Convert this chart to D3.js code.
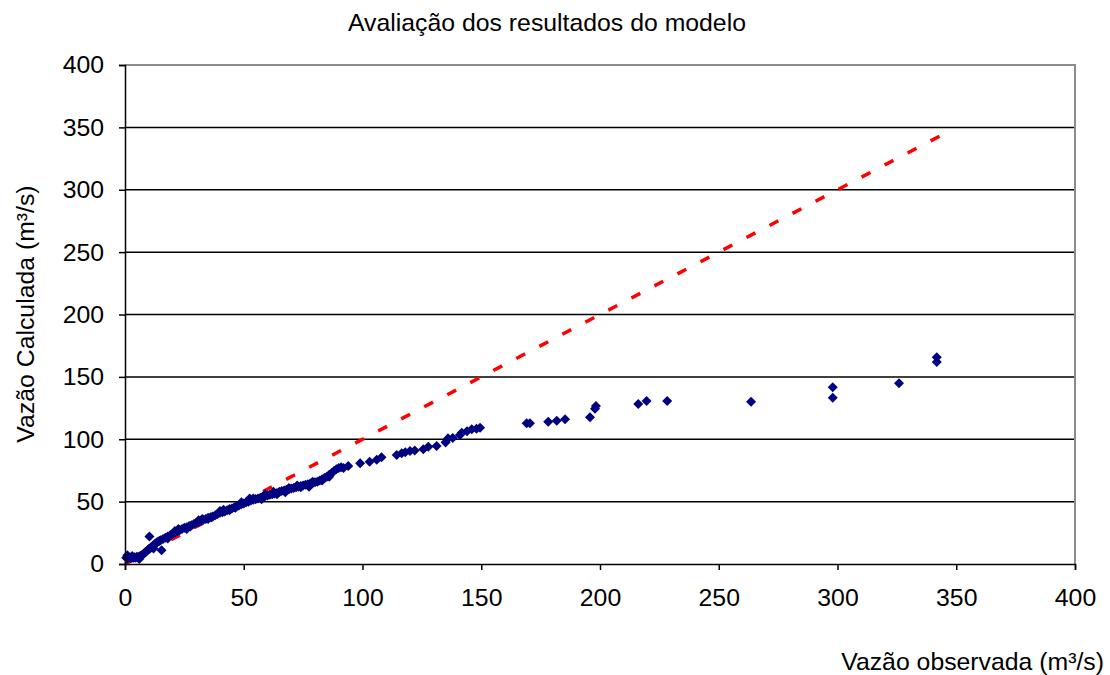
<!DOCTYPE html>
<html>
<head>
<meta charset="utf-8">
<script src="https://cdn.jsdelivr.net/npm/d3@7"></script>
<style>
  body { margin: 0; background: #fff; }
  text { font-family: "Liberation Sans", Arial, sans-serif; fill: #000; }
</style>
</head>
<body>
<script>
// observed flow (m3/s)
var observed = [
    0.5, 1, 1.5, 2, 2.5, 3, 3.5, 4, 4.5, 5, 5.5, 6, 6.5, 7, 7.5, 8, 8.5, 9, 9.5, 10,
    10.3, 10.5, 11, 11.5, 12, 12.5, 13, 13.5, 14, 14.5, 15, 15.4, 16, 17, 18, 19, 20,
    21, 22, 23, 24, 25, 26, 27, 28, 29, 30, 31, 32, 33, 34, 35, 36, 37, 38, 39, 40,
    41, 42, 43, 44, 45, 46, 47, 48, 49, 50, 51, 52, 53, 54, 55, 56, 57, 58, 59, 60,
    61, 62, 63, 64, 65, 66, 67, 68, 69, 70, 71, 72, 73, 74, 75, 76, 77, 78, 79, 80,
    81, 82, 83, 84, 85, 86, 87, 88, 89, 90,
    1, 3, 6, 12, 18, 22.5, 27.5, 32.5, 36.5, 41.5, 46.5, 52.5, 57.5, 62.5, 67.5, 72.5, 77.5,
    21, 26, 31, 35, 40, 44, 49, 54, 59, 64, 69, 74, 79, 83, 86, 91, 92,
    94, 99, 103, 106, 108, 114.4, 116.5, 118, 120, 122, 125.6, 127.7, 131.2, 135, 136,
    138, 141, 141.8, 144, 146, 148, 149.5,
    169.1, 170.5, 178.2, 181.8, 185.3, 195.8, 197.9, 198.3, 216.1, 219.6, 228.3,
    263.6, 298, 298, 325.9, 341.8, 341.8
];
// calculated flow (m3/s)
var calculated = [
    5, 4.5, 5.5, 5, 4.8, 5.2, 5, 5.5, 5, 5.8, 5.3, 6, 6.5, 7, 7.5, 8.5, 9.5, 10, 11, 12,
    22, 12.5, 13.5, 14, 15, 16, 16.5, 17.5, 18, 18.5, 19, 11, 20, 21, 22, 23, 24,
    25, 26, 27, 28, 29, 29.5, 30.5, 31, 32, 33, 33.5, 34.5, 35.5, 36, 37, 37.5, 38, 39, 40, 41,
    41.5, 42, 43, 44, 44.5, 45.5, 46.5, 47, 48, 48.5, 49.5, 50, 51, 51.5, 52, 52.5, 53, 54, 54.5, 55,
    55.5, 56, 56.5, 57, 58, 58.5, 59, 59.5, 60, 60.5, 61, 61.5, 62, 62.5, 63, 63.5, 64, 64.5, 65, 65.5,
    66, 67, 68, 69, 70, 71.5, 73, 74.5, 76, 77,
    7, 6.5, 4, 12.5, 20.5, 28, 30, 36, 37.5, 43.5, 45, 52.5, 52, 58, 57.5, 63, 62,
    26.5, 28, 35, 36, 42.5, 43, 49.5, 52.5, 56, 56, 61, 61.5, 66, 67, 70, 77.5, 77,
    78.6, 80.7, 82, 83.5, 85.5, 87.4, 88.7, 89.5, 90.6, 91, 91.9, 94, 94.6, 97.5, 100.7,
    101, 103.4, 105.3, 106.5, 108, 108.5, 109.3,
    112.8, 112.8, 114.1, 114.9, 116, 117.6, 124.5, 126.7, 128.3, 130.7, 130.7,
    130.1, 141.6, 133.3, 144.8, 165.7, 161.9
];
// 1:1 reference line
var lineX = [0, 344];
var xTicks = [0, 50, 100, 150, 200, 250, 300, 350, 400];
var yTicks = [0, 50, 100, 150, 200, 250, 300, 350, 400];

var width = 1110;
var height = 675;
var margin = {left: 125, right: 35, top: 65, bottom: 111};
var fontSize = "24.8px";

var svg = d3.select("body").append("svg")
    .attr("width", width)
    .attr("height", height);

var x = d3.scaleLinear().domain([0, 400]).range([margin.left, width - margin.right]);
var y = d3.scaleLinear().domain([0, 400]).range([height - margin.bottom, margin.top]);

// gridlines
svg.selectAll("line.grid")
    .data(yTicks.slice(1, -1))
    .enter()
    .append("line")
    .attr("class", "grid")
    .attr("x1", x(0))
    .attr("x2", x(400))
    .attr("y1", function(d) { return y(d); })
    .attr("y2", function(d) { return y(d); })
    .attr("stroke", "#000")
    .attr("stroke-width", 1.5);

// plot border top/right (gray)
svg.append("path")
    .attr("d", "M" + x(0) + "," + y(400) + "H" + x(400) + "V" + y(0))
    .attr("fill", "none")
    .attr("stroke", "#8c8c8c")
    .attr("stroke-width", 2);

// 1:1 line
svg.append("path")
    .datum(lineX)
    .attr("d", d3.line()
        .x(function(d) { return x(d); })
        .y(function(d) { return y(d); }))
    .attr("fill", "none")
    .attr("stroke", "#ff0000")
    .attr("stroke-width", 3.5)
    .attr("stroke-dasharray", "10,16");

// points
var pts = observed.map(function(d, i) { return [d, calculated[i]]; });
svg.selectAll("path.pt")
    .data(pts)
    .enter()
    .append("path")
    .attr("class", "pt")
    .attr("d", d3.symbol().type(d3.symbolDiamond2).size(64))
    .attr("transform", function(d) {
        return "translate(" + x(d[0]) + "," + y(d[1]) + ")";
    })
    .attr("fill", "#000080");

// axes
var xAxis = svg.append("g")
    .attr("transform", "translate(0," + y(0) + ")")
    .call(d3.axisBottom(x).tickValues(xTicks).tickSize(6).tickPadding(18));
var yAxis = svg.append("g")
    .attr("transform", "translate(" + x(0) + ",0)")
    .call(d3.axisLeft(y).tickValues(yTicks).tickSize(6).tickPadding(15));

[xAxis, yAxis].forEach(function(g) {
    g.select(".domain").attr("stroke", "#000").attr("stroke-width", 1.5);
    g.selectAll(".tick line").attr("stroke", "#000").attr("stroke-width", 1.5);
    g.selectAll(".tick text")
        .attr("font-family", "Liberation Sans, Arial, sans-serif")
        .attr("font-size", fontSize)
        .attr("fill", "#000");
});

// titles
svg.append("text")
    .attr("x", 547)
    .attr("y", 31)
    .attr("text-anchor", "middle")
    .attr("font-size", fontSize)
    .text("Avaliação dos resultados do modelo");

svg.append("text")
    .attr("x", 1104)
    .attr("y", 670)
    .attr("text-anchor", "end")
    .attr("font-size", fontSize)
    .text("Vazão observada (m³/s)");

svg.append("text")
    .attr("transform", "translate(34,314) rotate(-90)")
    .attr("text-anchor", "middle")
    .attr("font-size", fontSize)
    .text("Vazão Calculada (m³/s)");
</script>
</body>
</html>
